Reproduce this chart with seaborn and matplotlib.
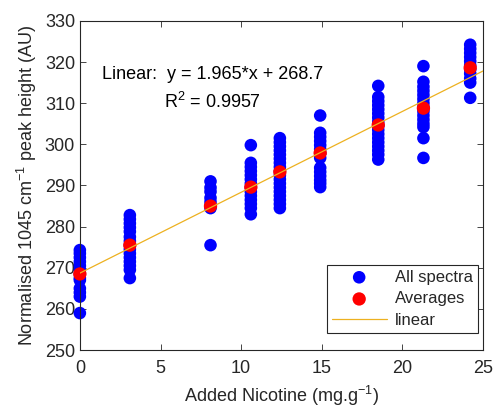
import matplotlib
matplotlib.use("Agg")
import matplotlib.pyplot as plt
import numpy as np
import pandas as pd
import seaborn as sns

sns.set_style("ticks")
plt.rcParams["font.family"] = ["Liberation Sans", "DejaVu Sans"]
plt.rcParams["mathtext.fontset"] = "custom"
plt.rcParams["mathtext.rm"] = "Liberation Sans"
plt.rcParams["mathtext.it"] = "Liberation Sans"

# added nicotine levels (mg/g)
nicotine = [0, 3.1, 8.1, 10.6, 12.4, 14.9, 18.5, 21.3, 24.2]

# individual spectra peak heights per nicotine level
spectra = [
    [274.3, 273.5, 272.5, 271.5, 270.5, 269.5, 268.5, 267.5, 267, 265, 264, 263, 259],
    [282.8, 281.8, 280.8, 279.8, 278.8, 277.5, 276.5, 275.5, 274.5, 273.5, 272.5, 271.5, 270.5, 269.5, 267.5],
    [291, 289.5, 288.5, 287, 286, 285, 284.5, 275.5],
    [299.8, 295.5, 294.5, 293.5, 292.5, 291.5, 290.5, 289.5, 288.5, 287.5, 286.5, 285.5, 284.5, 283],
    [301.5, 300.5, 299.5, 298.5, 297.5, 296.5, 295.5, 294.5, 293.5, 292.5, 291.5, 290.5, 289.5, 288.5, 287.5, 286.5, 285.5, 284.5],
    [307, 302.8, 301.8, 300.8, 299.8, 298.8, 297.8, 296.7, 294.3, 293.3, 292.3, 291.3, 290.5, 289.6],
    [314.2, 311.5, 310.5, 309.5, 308.5, 307.5, 306.5, 305.5, 304.5, 303.5, 302.5, 301.5, 300.5, 299.5, 298.5, 297.5, 296.3],
    [319, 315.2, 314, 313, 312, 311, 310, 309, 308, 307, 306, 305, 304.2, 301.5, 296.7],
    [324.2, 323.2, 322.2, 321.2, 320.2, 319.2, 318.2, 317.2, 316, 315, 311.3],
]

averages = [268.5, 275.5, 285, 289.6, 293.3, 297.9, 304.7, 308.8, 318.6]

slope, intercept = 1.965, 268.7
r2 = 0.9957

all_df = pd.DataFrame({
    "nicotine": [x for x, ys in zip(nicotine, spectra) for _ in ys],
    "height": [y for ys in spectra for y in ys],
})
avg_df = pd.DataFrame({"nicotine": nicotine, "height": averages})
fit_x = np.array([0, 25])
fit_df = pd.DataFrame({"nicotine": fit_x, "height": slope * fit_x + intercept})

fig, ax = plt.subplots(figsize=(4.96, 4.09), dpi=100)
fig.subplots_adjust(left=0.161, right=0.974, top=0.949, bottom=0.144)

sns.scatterplot(data=all_df, x="nicotine", y="height", color="#0000ff",
                s=82, edgecolor="none", label="All spectra", ax=ax, zorder=2,
                clip_on=False)
sns.scatterplot(data=avg_df, x="nicotine", y="height", color="#ff0000",
                s=92, edgecolor="none", label="Averages", ax=ax, zorder=3,
                clip_on=False)
sns.lineplot(data=fit_df, x="nicotine", y="height", color="#EDB120",
             linewidth=0.9, label="linear", ax=ax, zorder=4)

ax.set_xlim(0, 25)
ax.set_ylim(250, 330)
ax.set_xticks(range(0, 26, 5))
ax.set_yticks(range(250, 331, 10))
ax.tick_params(direction="in", top=True, right=True, labelsize=13,
               colors="#262626", length=4, width=0.6)
ax.tick_params(axis="x", pad=7)
for sp in ax.spines.values():
    sp.set_color("#262626")
    sp.set_linewidth(0.8)

ax.set_xlabel("Added Nicotine (mg.g$^{-1}$)", fontsize=13, color="#262626", labelpad=5)
ax.set_ylabel("Normalised 1045 cm$^{-1}$ peak height (AU)", fontsize=13, color="#262626")

ax.text(1.36, 316.9, f"Linear:  y = {slope}*x + {intercept}", fontsize=13,
        va="center", ha="left", color="black")
ax.text(8.2, 310.3, f"R$^2$ = {r2}", fontsize=13, va="center", ha="center", color="black")

leg = ax.legend(loc="lower right", bbox_to_anchor=(478 / 496, 1 - 333 / 409),
                bbox_transform=fig.transFigure, fontsize=12, frameon=True,
                fancybox=False, framealpha=1, edgecolor="#262626",
                borderpad=0.3, handlelength=3.3, handletextpad=0.5,
                labelspacing=0.4, markerscale=1.0, borderaxespad=0)
leg.get_frame().set_linewidth(0.8)

plt.savefig("out.png", dpi=100)
